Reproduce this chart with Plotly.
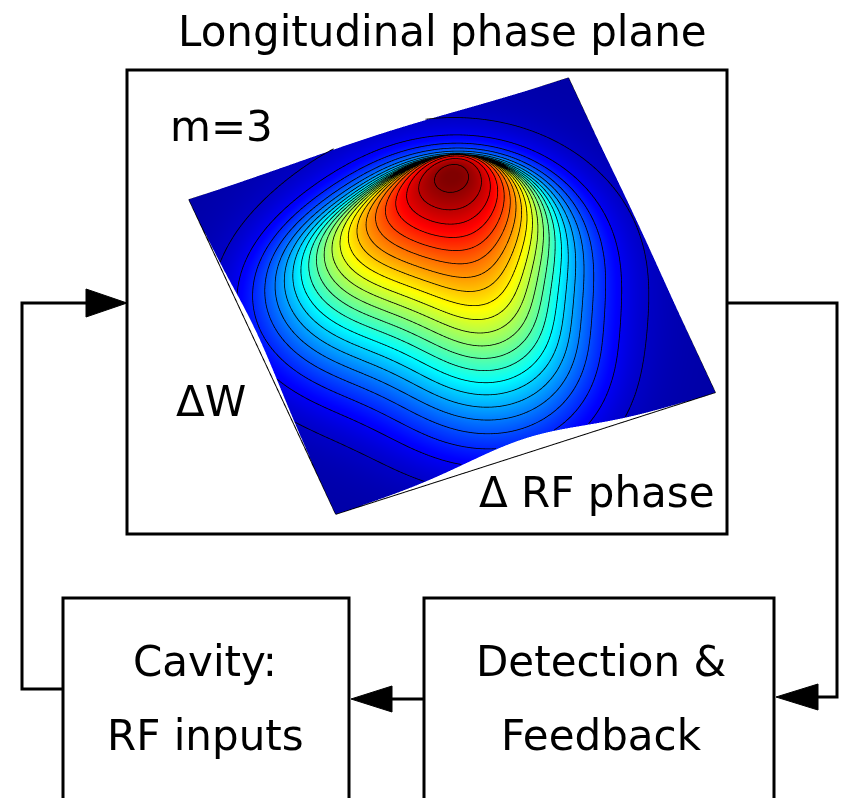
import numpy as np
import plotly.graph_objects as go

# ---- data -----------------------------------------------------------------
title_text = "Longitudinal phase plane"
mode_label = "m=3"
axis_labels = ["\u0394W", "\u0394 RF phase"]
box_labels = [["Cavity:", "RF inputs"], ["Detection &", "Feedback"]]

# phase-space density: three lobes (m=3) plus a broad core
# (positions in normalised RF phase / energy units, amplitudes relative)
lobe_phase = [0.57, 0.25, 0.50, 0.49]
lobe_energy = [0.57, 0.54, 0.22, 0.52]
lobe_amp = [0.90, 0.62, 0.65, 0.85]
lobe_sigma = [0.15, 0.15, 0.15, 0.21]
contour_levels = np.arange(0.035, 0.99, 0.045)

grid = np.linspace(0.0, 1.0, 101)
U, V = np.meshgrid(grid, grid)
Z = np.zeros_like(U)
for u0, v0, a, s in zip(lobe_phase, lobe_energy, lobe_amp, lobe_sigma):
    Z += a * np.exp(-((U - u0) ** 2 + (V - v0) ** 2) / (2 * s ** 2))
Z = Z / Z.max()


def contour_segments(x, y, Zg, levels, lift=0.008):
    xs, ys, zs = [], [], []
    for L in levels:
        above = Zg > L
        a = above[:-1, :-1]
        cross = ~((a == above[:-1, 1:]) & (a == above[1:, 1:]) & (a == above[1:, :-1]))
        for j, i in np.argwhere(cross):
            pts = []
            for (i0, j0), (i1, j1) in (((i, j), (i + 1, j)), ((i + 1, j), (i + 1, j + 1)),
                                       ((i + 1, j + 1), (i, j + 1)), ((i, j + 1), (i, j))):
                z0, z1 = Zg[j0, i0], Zg[j1, i1]
                if (z0 > L) != (z1 > L):
                    t = (L - z0) / (z1 - z0)
                    pts.append((x[i0] + t * (x[i1] - x[i0]), y[j0] + t * (y[j1] - y[j0])))
            for k in range(0, len(pts) - 1, 2):
                xs += [pts[k][0], pts[k + 1][0], None]
                ys += [pts[k][1], pts[k + 1][1], None]
                zs += [L + lift, L + lift, None]
    return xs, ys, zs


jet = [[0.0, "rgb(0,0,128)"], [0.125, "rgb(0,0,255)"], [0.375, "rgb(0,255,255)"],
       [0.625, "rgb(255,255,0)"], [0.875, "rgb(255,0,0)"], [1.0, "rgb(128,0,0)"]]

W, H = 842, 798
fig = go.Figure()

fig.add_trace(go.Surface(
    x=grid, y=grid, z=Z, colorscale=jet, cmin=-0.04, cmax=1.0, showscale=False,
    lighting=dict(ambient=1.0, diffuse=0.0, specular=0.0, fresnel=0.0, roughness=1.0),
    contours=dict(x=dict(highlight=False), y=dict(highlight=False), z=dict(highlight=False)),
    hoverinfo="skip", scene="scene"))

cx_, cy_, cz_ = contour_segments(grid, grid, Z, contour_levels)
fig.add_trace(go.Scatter3d(
    x=cx_, y=cy_, z=cz_, mode="lines", connectgaps=False,
    line=dict(color="black", width=1.6), hoverinfo="skip", showlegend=False, scene="scene"))

# base frame at z = 0
fig.add_trace(go.Scatter3d(
    x=[0, 1, 1, 0, 0], y=[0, 0, 1, 1, 0], z=[0, 0, 0, 0, 0], mode="lines",
    line=dict(color="black", width=2), hoverinfo="skip", showlegend=False, scene="scene"))

elev = np.radians(56)
hx, hy = -0.361, -0.933
Rr = 1.5
sc = 0.94
fig.update_layout(scene=dict(
    domain=dict(x=[0, 1], y=[0, 1]),
    xaxis=dict(visible=False, range=[-0.164, 1.0]),
    yaxis=dict(visible=False, range=[0.0, 1.0]),
    zaxis=dict(visible=False, range=[-2.838, 1.096]),
    aspectmode="manual", aspectratio=dict(x=1.263 * sc, y=1.085 * sc, z=2.0 * sc),
    camera=dict(eye=dict(x=hx * np.cos(elev) * Rr, y=hy * np.cos(elev) * Rr, z=np.sin(elev) * Rr),
                up=dict(x=0, y=0, z=1), center=dict(x=0, y=0, z=0),
                projection=dict(type="orthographic")),
    bgcolor="rgba(0,0,0,0)"))

# ---- diagram: boxes, connectors, arrows -----------------------------------
line = dict(color="black", width=3)
shapes = [
    dict(type="rect", x0=127, y0=70, x1=727, y1=534, line=line),
    dict(type="path", path="M63,805 L63,598 L349,598 L349,805", line=line),
    dict(type="path", path="M424,805 L424,598 L774,598 L774,805", line=line),
    dict(type="path", path="M63,689 L22,689 L22,303 L95,303", line=line),
    dict(type="path", path="M86,289 L127,303 L86,317 Z", fillcolor="black", line=dict(color="black", width=1)),
    dict(type="path", path="M424,699 L385,699", line=line),
    dict(type="path", path="M392,686 L351,699 L392,712 Z", fillcolor="black", line=dict(color="black", width=1)),
    dict(type="path", path="M727,303 L837,303 L837,697 L812,697", line=line),
    dict(type="path", path="M818,684 L776,697 L818,710 Z", fillcolor="black", line=dict(color="black", width=1)),
]
for s in shapes:
    s.update(xref="x", yref="y", layer="above")

FONT = "DejaVu Sans, Verdana, sans-serif"
fs = 42
ann = []
def txt(x, y, t, size=fs, xanchor="center"):
    ann.append(dict(x=x, y=y, text=t, showarrow=False, xref="x", yref="y",
                    xanchor=xanchor, yanchor="middle",
                    font=dict(family=FONT, size=size, color="black")))

txt(442, 31, title_text)
txt(168, 126, mode_label, xanchor="left")
txt(174, 401, axis_labels[0], xanchor="left")
txt(717, 492, axis_labels[1], xanchor="right")
txt(205, 661, box_labels[0][0])
txt(205, 735, box_labels[0][1])
txt(601, 661, box_labels[1][0])
txt(601, 735, box_labels[1][1])

fig.update_layout(
    width=W, height=H, margin=dict(l=0, r=0, t=0, b=0),
    paper_bgcolor="white", plot_bgcolor="rgba(0,0,0,0)", showlegend=False,
    xaxis=dict(range=[0, W], visible=False, fixedrange=True),
    yaxis=dict(range=[H, 0], visible=False, fixedrange=True),
    shapes=shapes, annotations=ann)

fig.write_html("out.html")
